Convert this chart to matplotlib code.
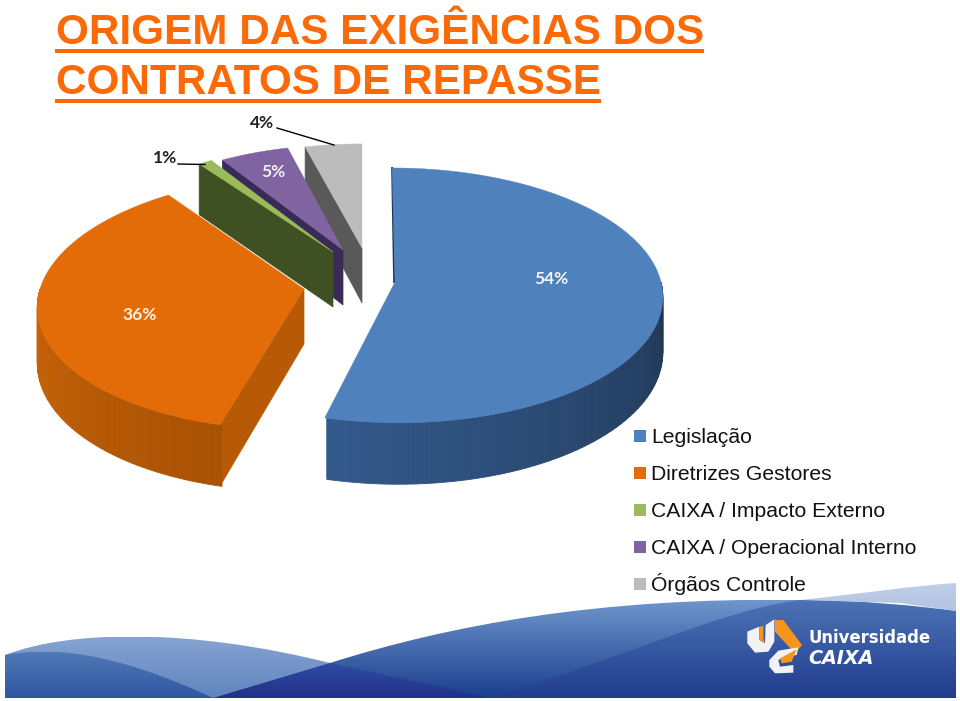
import numpy as np
import matplotlib
matplotlib.use("Agg")
import matplotlib.pyplot as plt
from matplotlib.path import Path
from matplotlib.patches import PathPatch
from matplotlib.colors import to_rgb

# data
categories = ["Legislação", "Diretrizes Gestores", "CAIXA / Impacto Externo",
              "CAIXA / Operacional Interno", "Órgãos Controle"]
values = [54, 36, 1, 5, 4]
title_lines = ["ORIGEM DAS EXIGÊNCIAS DOS", "CONTRATOS DE REPASSE"]

colors = ["#4f81bd", "#e36c09", "#9bbb59", "#8064a2", "#bcbcbc"]
side_colors = ["#1f3552", "#b85a05", "#3f5022", "#3a2a57", "#595959"]
# apex x, apex y, radius x, radius y, shear for every slice (exploded, in pixels)
geom = [(395, 282, 266, 126, -0.025), (304, 289, 264, 126, 0.08), (333, 252, 247, 118, 0),
        (343, 250, 245, 116, 0), (362, 248, 252, 115, 0)]
PERSP = 0.105
DEPTH = 55

ORANGE = "#fb6a06"

fig = plt.figure(figsize=(9.6, 7.01), dpi=100)
ax = fig.add_axes([0, 0, 1, 1])
ax.axis("off")


def rim(g, t):
    t = np.radians(t)
    s = 1 / (1 + PERSP * np.sin(t))
    dy = g[3] * np.sin(t) * s
    return g[0] + g[2] * np.cos(t) * s + g[4] * dy, g[1] - dy, DEPTH * s


def grad(verts, codes, top, bottom, y0, y1):
    patch = PathPatch(Path(verts, codes), fc="none", ec="none", transform=ax.transData)
    ax.add_patch(patch)
    c0, c1 = np.array(to_rgb(top)), np.array(to_rgb(bottom))
    f = np.linspace(0, 1, 64)[:, None, None]
    img = c0[None, None, :] * (1 - f) + c1[None, None, :] * f
    im = ax.imshow(img, extent=(0, 960, y1, y0), aspect="auto", zorder=1)
    im.set_clip_path(patch)


M, L, C, Z = Path.MOVETO, Path.LINETO, Path.CURVE4, Path.CLOSEPOLY

# bottom waves
grad([(5, 655), (70, 630), (190, 628), (330, 663), (213, 698), (5, 698), (5, 655)],
     [M, C, C, C, L, L, Z], "#86a3d2", "#5f85be", 637, 698)
grad([(5, 655), (50, 647), (110, 650), (213, 698), (5, 698), (5, 655)],
     [M, C, C, C, L, Z], "#5079b6", "#2f57a2", 652, 698)
grad([(213, 698), (330, 663), (450, 625), (600, 597), (800, 600), (956, 611),
      (956, 698), (213, 698)],
     [M, L, C, C, C, L, L, Z], "#6f95cc", "#1c3f8e", 600, 698)
grad([(490, 698), (620, 660), (720, 610), (800, 600), (860, 600), (920, 606), (956, 611),
      (956, 698), (490, 698)],
     [M, C, C, C, C, C, C, L, Z], "#4c73b6", "#213c8d", 600, 698)
grad([(213, 698), (330, 663), (490, 698), (213, 698)], [M, L, L, Z], "#2f4ba3", "#22318a", 663, 698)
grad([(800, 600), (860, 594), (910, 586), (956, 583), (956, 611), (900, 603), (800, 600)],
     [M, C, C, C, L, L, Z], "#c0cfe8", "#b2c4e2", 583, 611)


# logo
def logo(xs, ys, col, zo):
    ax.fill(730 + np.array(xs) / 3, 610 + np.array(ys) / 3, color=col, lw=0, zorder=zo)


logo([135, 160, 216, 195, 135], [30, 30, 105, 130, 65], "#f7941d", 3)
logo([52, 88, 88, 105, 107, 133, 133, 115, 75, 52],
     [65, 50, 90, 100, 45, 28, 95, 125, 128, 100], "#f2f2f2", 4)
logo([88, 100, 100, 105, 88], [50, 48, 85, 100, 90], "#f7941d", 5)
logo([205, 145, 118, 118, 135, 190, 190, 150, 145, 165, 200],
     [112, 122, 150, 170, 190, 188, 165, 170, 150, 140, 135], "#f2f2f2", 4)
logo([150, 200, 185, 155], [145, 118, 155, 160], "#f7941d", 5)
ax.text(808, 643, "Universidade", color="white", fontsize=11.9, fontweight="bold",
        family="DejaVu Sans", zorder=6)
ax.text(808, 664, "CAIXA", color="white", fontsize=13.8, fontweight="bold",
        style="italic", family="DejaVu Sans", zorder=6)

# pie, back slices first
order = [4, 3, 2, 1, 0]
starts = 90 - 3.6 * np.concatenate([[0], np.cumsum(values)[:-1]])
ends = starts - 3.6 * np.array(values)
z = 10
for i in order:
    g = geom[i]
    t1, t2 = starts[i], ends[i]
    ts = np.linspace(t1, t2, 80)
    x, y, d = rim(g, ts)

    # radial walls that face the viewer
    if i >= 1:
        xr, yr, dr = rim(g, t1)
        ax.fill([xr, g[0], g[0], xr], [yr, g[1], g[1] + DEPTH, yr + dr],
                color=side_colors[i], lw=0.5, zorder=z)
    else:
        xr, yr, dr = rim(g, t1)
        ax.plot([xr, xr + 2], [yr, g[1]], color=side_colors[0], lw=1.4, zorder=z)

    # outer wall, lit from the left
    if i < 2:
        a, b = (-104.0, 0.0) if i == 0 else (180.0, 256.0)
        cl, cr = ("#cc6408", "#a85204") if i == 1 else ("#33598b", "#1f3552")
        n = 60
        edges = np.linspace(a, b, n + 1)
        cl, cr = np.array(to_rgb(cl)), np.array(to_rgb(cr))
        for k in range(n):
            ta = edges[k:k + 2]
            xa, ya, da = rim(g, ta)
            col = cl + (cr - cl) * k / (n - 1)
            ax.fill([xa[0], xa[1], xa[1], xa[0]],
                    [ya[0], ya[1], ya[1] + da[1], ya[0] + da[0]],
                    color=col, lw=0.6, zorder=z)

    ax.fill(np.r_[g[0], x], np.r_[g[1], y], color=colors[i], lw=0.3, zorder=z + 1)
    z += 2

# value labels
lab_font = dict(family="Lato", fontweight="bold", fontsize=12.5, ha="center", va="center", zorder=30)
ax.text(551, 279, f"{values[0]}%", color="#f4f6fa", **lab_font)
ax.text(140, 315, f"{values[1]}%", color="#fdf1e6", **lab_font)
ax.text(273, 172, f"{values[3]}%", color="#f2eef6", **lab_font)
ax.text(165, 158, f"{values[2]}%", color="#222222", **lab_font)
ax.text(262, 123, f"{values[4]}%", color="#222222", **lab_font)
ax.plot([178, 205], [164, 164.5], color="black", lw=1, zorder=30)
ax.plot([277, 334], [128, 145], color="black", lw=1, zorder=30)

# legend
for i, name in enumerate(categories):
    yy = 436 + 37 * i
    ax.fill([634, 646, 646, 634], [yy - 6, yy - 6, yy + 6, yy + 6], color=colors[i], lw=0, zorder=30)
    ax.text(651, yy + 7, name, fontsize=15.2, family="Liberation Sans", va="baseline",
            color="#111111", zorder=30)

# title
for line, base, x2 in zip(title_lines, [43.5, 94], [704, 601]):
    ax.text(56, base, line, color=ORANGE, fontsize=30.4, fontweight="bold",
            family="Liberation Sans", va="baseline", zorder=30)
    ax.fill([55, x2, x2, 55], [base + 5, base + 5, base + 9, base + 9], color=ORANGE, lw=0, zorder=30)

ax.set_xlim(0, 960)
ax.set_ylim(701, 0)
fig.savefig("out.png", dpi=100)
